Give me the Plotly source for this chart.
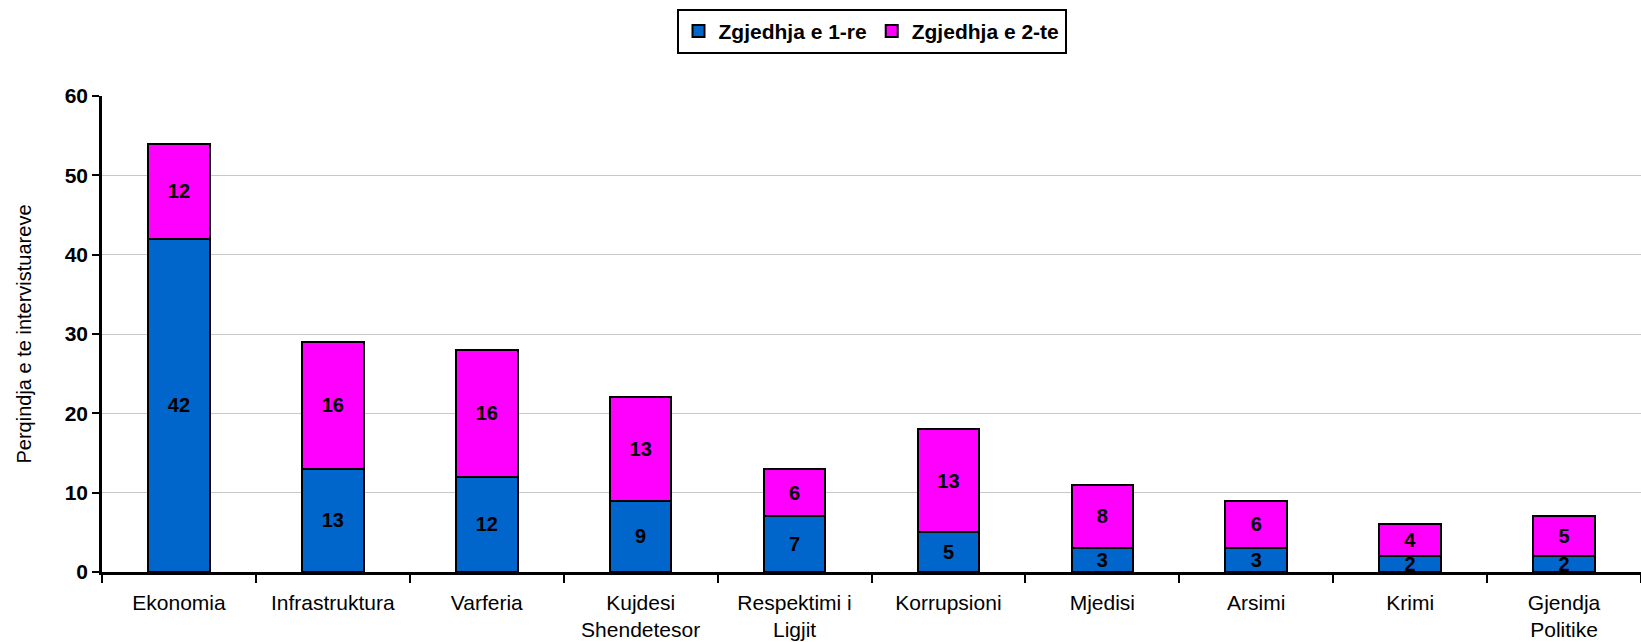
import plotly.graph_objects as go

categories = ["Ekonomia", "Infrastruktura", "Varferia", "Kujdesi<br>Shendetesor",
              "Respektimi i<br>Ligjit", "Korrupsioni", "Mjedisi", "Arsimi", "Krimi",
              "Gjendja<br>Politike"]
first_choice = [42, 13, 12, 9, 7, 5, 3, 3, 2, 2]
second_choice = [12, 16, 16, 13, 6, 13, 8, 6, 4, 5]
y_ticks = [0, 10, 20, 30, 40, 50, 60]

BLUE = "#0066cc"
MAGENTA = "#ff00ff"
FONT = "Liberation Sans, Arial, sans-serif"

fig = go.Figure()
for name, vals, color in [("Zgjedhja e 1-re", first_choice, BLUE),
                          ("Zgjedhja e 2-te", second_choice, MAGENTA)]:
    fig.add_trace(go.Bar(
        name=name, x=categories, y=vals, text=vals,
        textposition="inside", insidetextanchor="middle", textangle=0,
        textfont=dict(family=FONT, size=20, color="black", weight="bold"),
        marker=dict(color=color, line=dict(color="black", width=2)),
        width=0.4,
    ))

fig.update_layout(
    barmode="stack",
    width=1641, height=642,
    font=dict(family=FONT, color="black", size=20),
    paper_bgcolor="white", plot_bgcolor="white",
    margin=dict(l=102, r=0, t=96, b=70, autoexpand=False),
    uniformtext=dict(minsize=20, mode="show"),
    showlegend=True,
    legend=dict(orientation="h", x=0.5, xanchor="center", y=1.183, yanchor="top",
                traceorder="normal",
                bordercolor="black", borderwidth=2,
                font=dict(family=FONT, size=21, color="black", weight="bold"),
                itemwidth=30),
)
fig.update_xaxes(
    type="category", tickson="boundaries", ticks="outside", ticklen=8,
    tickwidth=2, tickcolor="black", showline=True, linecolor="black", linewidth=2.5,
    tickfont=dict(family=FONT, size=21, color="black"), showgrid=False,
    ticklabelstandoff=10, automargin=False,
)
fig.update_yaxes(
    range=[0, 60], tickvals=y_ticks, ticks="outside", ticklen=7, tickwidth=2,
    tickcolor="black", showline=True, linecolor="black", linewidth=2.5,
    showgrid=True, gridcolor="#c8c8c8", gridwidth=1, zeroline=False,
    tickfont=dict(family=FONT, size=21, color="black", weight="bold"),
    title=dict(text="Perqindja e te intervistuareve",
               font=dict(family=FONT, size=20, color="black"), standoff=28),
    automargin=False,
)

# drop the default body margin so the figure sits flush with the window
fig.write_html("out.html", config={"displayModeBar": False},
               post_script="document.body.style.margin='0';document.body.style.overflow='hidden';")
